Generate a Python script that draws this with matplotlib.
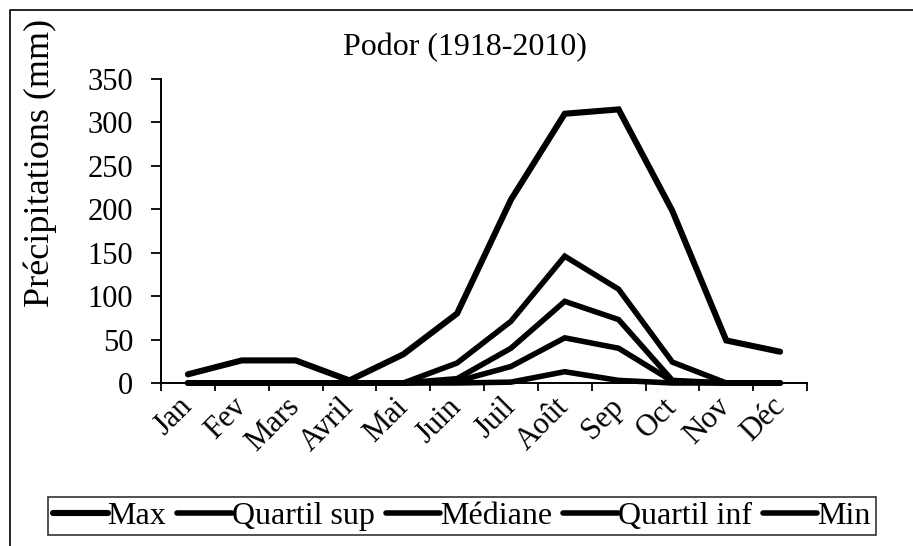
import matplotlib
matplotlib.use("Agg")
import matplotlib.pyplot as plt
from matplotlib.lines import Line2D
import numpy as np

#################################################################
# DONNEES
#################################################################

MOIS = ["Jan", "Fev", "Mars", "Avril", "Mai", "Juin",
        "Juil", "Août", "Sep", "Oct", "Nov", "Déc"]

MAX = [10, 26, 26, 3, 33, 80, 211, 310, 315, 198, 49, 36]
QUARTIL_SUP = [0, 0, 0, 0, 0, 23, 71, 146, 108, 24, 0, 0]
MEDIANE = [0, 0, 0, 0, 0, 5, 40, 94, 73, 3, 0, 0]
QUARTIL_INF = [0, 0, 0, 0, 0, 2, 19, 52, 40, 2, 0, 0]
MIN = [0, 0, 0, 0, 0, 0, 1, 13, 3, 0, 0, 0]

SERIES = [("Max", MAX), ("Quartil sup", QUARTIL_SUP), ("Médiane", MEDIANE),
          ("Quartil inf", QUARTIL_INF), ("Min", MIN)]

TITRE = "Podor (1918-2010)"
LABEL_Y = "Précipitations (mm)"

#################################################################
# FIGURE
#################################################################

plt.rcParams['font.family'] = ['Liberation Serif', 'DejaVu Serif']

W, H = 913, 546
fig = plt.figure(figsize=(W / 100, H / 100), dpi=100)

# cadre (bords gauche et haut visibles)
fig.add_artist(Line2D([10 / W, 10 / W, 1.0], [0.0, 1 - 10 / H, 1 - 10 / H],
                      transform=fig.transFigure, color="black", lw=1.2))

ax = fig.add_axes([161 / W, 1 - 383 / H, (807 - 161) / W, (383 - 79) / H])

x = np.arange(len(MOIS))
handles = []
for nom, valeurs in SERIES:
    lw = 4.4 if nom == "Max" else 4.0
    h, = ax.plot(x, valeurs, color="black", lw=lw, solid_joinstyle="miter",
                 solid_capstyle="round", label=nom, clip_on=False)
    handles.append(h)

ax.set_xlim(-0.5, len(MOIS) - 0.5)
ax.set_ylim(0, 350)
ax.set_yticks(np.arange(0, 351, 50))
ax.set_xticks(np.arange(-0.5, len(MOIS)), minor=False)
ax.set_xticklabels([])
ax.set_xticks(x, minor=True)
ax.set_xticklabels(MOIS, minor=True, rotation=45, ha="right", va="center",
                   rotation_mode="anchor", fontsize=22)
ax.tick_params(axis="x", which="minor", length=0, pad=14)
ax.tick_params(axis="x", which="major", direction="out", length=6, width=1.3)
ax.tick_params(axis="y", direction="out", length=7, width=1.3, labelsize=22, pad=13)

for s in ["top", "right"]:
    ax.spines[s].set_visible(False)
for s in ["left", "bottom"]:
    ax.spines[s].set_linewidth(1.4)

fig.text(465 / W, 1 - 48 / H, TITRE, ha="center", va="center", fontsize=23)
fig.text(40 / W, 1 - 163 / H, LABEL_Y, ha="center", va="center",
         rotation=90, fontsize=26)

leg = fig.legend(handles=handles, loc="center", bbox_to_anchor=(462 / W, 1 - 516 / H),
                 ncol=5, fontsize=23, frameon=True, fancybox=False,
                 handlelength=1.7, handletextpad=0.0, columnspacing=0.35,
                 borderpad=0.15, borderaxespad=0)
leg.get_frame().set_edgecolor("black")
leg.get_frame().set_linewidth(1.2)

fig.savefig("out.png", dpi=100)
